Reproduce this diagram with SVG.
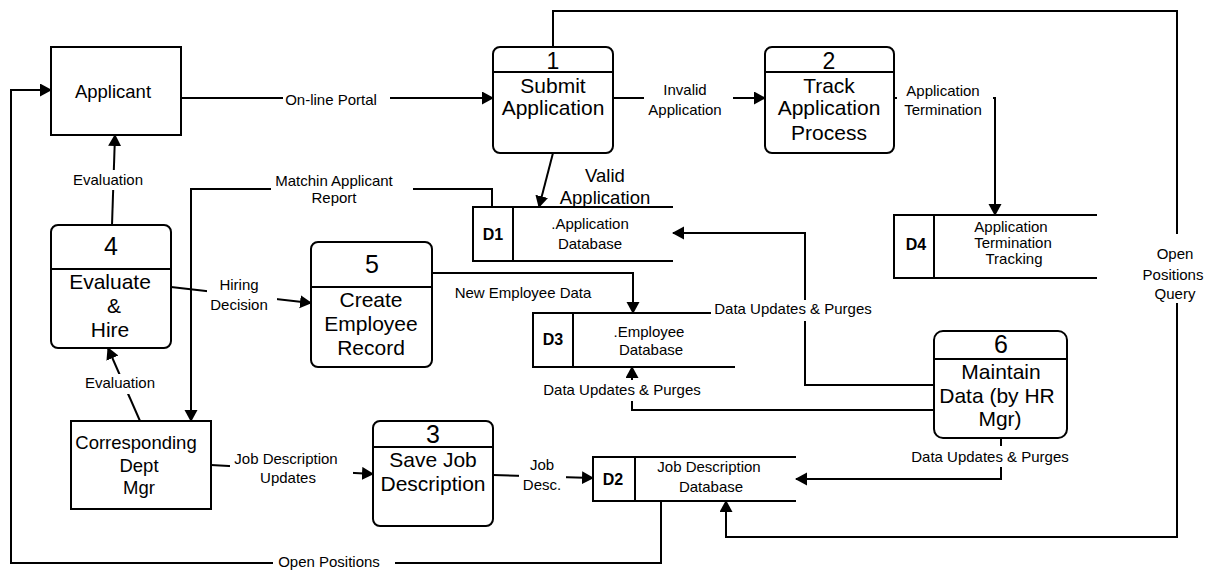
<svg xmlns="http://www.w3.org/2000/svg" width="1205" height="571" viewBox="0 0 1205 571">
  <defs>
    <style>
      .ln { fill: none; stroke: #000; stroke-width: 2; }
      .box { fill: #fff; stroke: #000; stroke-width: 2; }
      .bg { fill: #fff; }
      text { font-family: "Liberation Sans", Arial, sans-serif; fill: #000; text-anchor: middle; }
      .lb { font-size: 15px; }
      .ds { font-size: 15px; }
      .pt { font-size: 21px; }
      .ex { font-size: 18.5px; }
      .num { font-size: 25px; }
      .num2 { font-size: 23px; }
      .id { font-size: 16px; font-weight: bold; }
    </style>
    <marker id="ah" markerUnits="userSpaceOnUse" markerWidth="14" markerHeight="14" refX="11" refY="6.5" orient="auto">
      <path d="M0,0 L12,6.5 L0,13 z" fill="#000"/>
    </marker>
  </defs>

  <rect width="1205" height="571" fill="#fff"/>

  <!-- data flows -->
  <g id="connectors">
    <path class="ln" d="M661,501 V563 H11 V90 H51" marker-end="url(#ah)"/>
    <path class="ln" d="M181,98 H493" marker-end="url(#ah)"/>
    <path class="ln" d="M112,225 L115,135" marker-end="url(#ah)"/>
    <path class="ln" d="M492,207 V189 H191 V421" marker-end="url(#ah)"/>
    <path class="ln" d="M613,98 H765" marker-end="url(#ah)"/>
    <path class="ln" d="M553,153 L539,207" marker-end="url(#ah)"/>
    <path class="ln" d="M553,47 V11 H1177 V537 H726 V501" marker-end="url(#ah)"/>
    <path class="ln" d="M894,98 H995 V215" marker-end="url(#ah)"/>
    <path class="ln" d="M171,287 L311,303" marker-end="url(#ah)"/>
    <path class="ln" d="M432,273 H633 V313" marker-end="url(#ah)"/>
    <path class="ln" d="M934,385 H805 V233 H673" marker-end="url(#ah)"/>
    <path class="ln" d="M934,410 H632 V367" marker-end="url(#ah)"/>
    <path class="ln" d="M1001,438 V479 H796" marker-end="url(#ah)"/>
    <path class="ln" d="M140,421 L108,348" marker-end="url(#ah)"/>
    <path class="ln" d="M211,465 L373,474" marker-end="url(#ah)"/>
    <path class="ln" d="M493,475 L593,478" marker-end="url(#ah)"/>

    <!-- label backgrounds -->
    <rect class="bg" x="283" y="90" width="107" height="18"/>
    <rect class="bg" x="72" y="170" width="74" height="20"/>
    <rect class="bg" x="271" y="172" width="142" height="34"/>
    <rect class="bg" x="644" y="80" width="89" height="38"/>
    <rect class="bg" x="897" y="80" width="96" height="38"/>
    <rect class="bg" x="207" y="276" width="70" height="38"/>
    <rect class="bg" x="711" y="300" width="165" height="21"/>
    <rect class="bg" x="541" y="380" width="163" height="21"/>
    <rect class="bg" x="85" y="374" width="71" height="20"/>
    <rect class="bg" x="230" y="450" width="123" height="38"/>
    <rect class="bg" x="519" y="455" width="47" height="40"/>
    <rect class="bg" x="909" y="446" width="162" height="21"/>
    <rect class="bg" x="1140" y="234" width="64" height="69"/>
    <rect class="bg" x="273" y="553" width="122" height="18"/>

    <!-- labels -->
    <text class="lb" x="331" y="105">On-line Portal</text>
    <text class="lb" x="108" y="185">Evaluation</text>
    <text class="lb" x="334" y="186">Matchin Applicant</text>
    <text class="lb" x="334" y="203">Report</text>
    <text class="lb" x="685" y="95">Invalid</text>
    <text class="lb" x="685" y="115">Application</text>
    <text class="lb" x="943" y="96">Application</text>
    <text class="lb" x="943" y="115">Termination</text>
    <text class="ex" x="605" y="182">Valid</text>
    <text class="ex" x="605" y="204">Application</text>
    <text class="lb" x="239" y="290">Hiring</text>
    <text class="lb" x="239" y="310">Decision</text>
    <text class="lb" x="523" y="298">New Employee Data</text>
    <text class="lb" x="793" y="314">Data Updates &amp; Purges</text>
    <text class="lb" x="622" y="395">Data Updates &amp; Purges</text>
    <text class="lb" x="120" y="388">Evaluation</text>
    <text class="lb" x="286" y="464">Job Description</text>
    <text class="lb" x="288" y="483">Updates</text>
    <text class="lb" x="542" y="470">Job</text>
    <text class="lb" x="542" y="490">Desc.</text>
    <text class="lb" x="990" y="462">Data Updates &amp; Purges</text>
    <text class="lb" x="1175" y="259">Open</text>
    <text class="lb" x="1173" y="280">Positions</text>
    <text class="lb" x="1175" y="299">Query</text>
    <text class="lb" x="329" y="567">Open Positions</text>
  </g>

  <!-- external entities -->
  <g id="applicant">
    <rect class="box" x="51" y="47" width="130" height="88"/>
    <text class="ex" x="113" y="98">Applicant</text>
  </g>
  <g id="dept-mgr">
    <rect class="box" x="71" y="421" width="140" height="88"/>
    <text class="ex" x="136" y="449">Corresponding</text>
    <text class="ex" x="139" y="472">Dept</text>
    <text class="ex" x="139" y="494">Mgr</text>
  </g>

  <!-- processes -->
  <g id="p1">
    <rect class="box" x="493" y="47" width="120" height="106" rx="7"/>
    <line class="ln" x1="493" y1="72" x2="613" y2="72"/>
    <text class="num2" x="553" y="69">1</text>
    <text class="pt" x="553" y="93">Submit</text>
    <text class="pt" x="553" y="115">Application</text>
  </g>
  <g id="p2">
    <rect class="box" x="765" y="47" width="129" height="106" rx="7"/>
    <line class="ln" x1="765" y1="72" x2="894" y2="72"/>
    <text class="num2" x="829" y="69">2</text>
    <text class="pt" x="829" y="93">Track</text>
    <text class="pt" x="829" y="115">Application</text>
    <text class="pt" x="829" y="140">Process</text>
  </g>
  <g id="p4">
    <rect class="box" x="51" y="225" width="120" height="123" rx="7"/>
    <line class="ln" x1="51" y1="269" x2="171" y2="269"/>
    <text class="num" x="111" y="255">4</text>
    <text class="pt" x="110" y="289">Evaluate</text>
    <text class="pt" x="114" y="313">&amp;</text>
    <text class="pt" x="110" y="337">Hire</text>
  </g>
  <g id="p5">
    <rect class="box" x="311" y="242" width="121" height="125" rx="7"/>
    <line class="ln" x1="311" y1="287" x2="432" y2="287"/>
    <text class="num" x="372" y="273">5</text>
    <text class="pt" x="371" y="307">Create</text>
    <text class="pt" x="371" y="331">Employee</text>
    <text class="pt" x="371" y="355">Record</text>
  </g>
  <g id="p3">
    <rect class="box" x="373" y="421" width="120" height="105" rx="7"/>
    <line class="ln" x1="373" y1="447" x2="493" y2="447"/>
    <text class="num" x="433" y="443">3</text>
    <text class="pt" x="433" y="467">Save Job</text>
    <text class="pt" x="433" y="491">Description</text>
  </g>
  <g id="p6">
    <rect class="box" x="934" y="331" width="133" height="107" rx="9"/>
    <line class="ln" x1="934" y1="359" x2="1067" y2="359"/>
    <text class="num" x="1001" y="353">6</text>
    <text class="pt" x="1001" y="379">Maintain</text>
    <text class="pt" x="997" y="403">Data (by HR</text>
    <text class="pt" x="1000" y="426">Mgr)</text>
  </g>

  <!-- data stores -->
  <g id="d1">
    <path class="ln" d="M673,207 H473 V261 H673 M513,207 V261"/>
    <text class="id" x="493" y="240">D1</text>
    <text class="ds" x="590" y="229">.Application</text>
    <text class="ds" x="590" y="249">Database</text>
  </g>
  <g id="d3">
    <path class="ln" d="M711,313 H533 V367 H735 M573,313 V367"/>
    <text class="id" x="553" y="345">D3</text>
    <text class="ds" x="649" y="337">.Employee</text>
    <text class="ds" x="651" y="355">Database</text>
  </g>
  <g id="d2">
    <path class="ln" d="M796,457 H593 V501 H796 M635,457 V501"/>
    <text class="id" x="613" y="485">D2</text>
    <text class="ds" x="709" y="472">Job Description</text>
    <text class="ds" x="711" y="492">Database</text>
  </g>
  <g id="d4">
    <path class="ln" d="M1097,215 H894 V278 H1097 M934,215 V278"/>
    <text class="id" x="916" y="250">D4</text>
    <text class="ds" x="1011" y="232">Application</text>
    <text class="ds" x="1013" y="248">Termination</text>
    <text class="ds" x="1014" y="264">Tracking</text>
  </g>
</svg>
